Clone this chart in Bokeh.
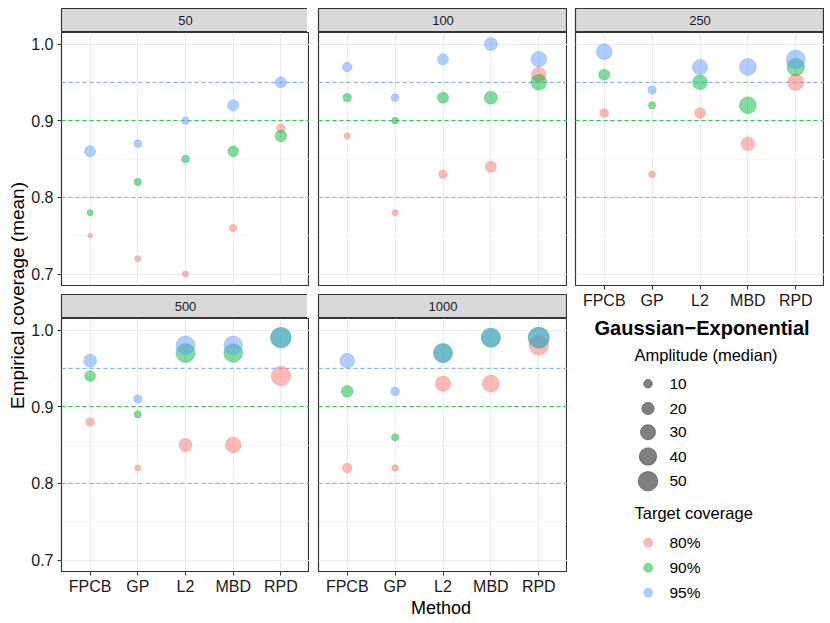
import math
from bokeh.plotting import figure
from bokeh.models import Range1d, FixedTicker, Span, ColumnDataSource, Spacer
from bokeh.layouts import row, column
from bokeh.embed import file_html
from bokeh.resources import INLINE
from bokeh.core.properties import value

# ---------------- data ----------------
methods = ["FPCB", "GP", "L2", "MBD", "RPD"]
sample_sizes = ["50", "100", "250", "500", "1000"]
target_labels = ["80%", "90%", "95%"]
target_levels = [0.80, 0.90, 0.95]
target_colors = ["#F8766D", "#00BA38", "#619CFF"]

# empirical coverage (mean); rows = sample sizes 50..1000, cols = methods
coverage_80 = [
    [0.75, 0.72, 0.70, 0.76, 0.89],
    [0.88, 0.78, 0.83, 0.84, 0.96],
    [0.91, 0.83, 0.91, 0.87, 0.95],
    [0.88, 0.82, 0.85, 0.85, 0.94],
    [0.82, 0.82, 0.93, 0.93, 0.98],
]
coverage_90 = [
    [0.78, 0.82, 0.85, 0.86, 0.88],
    [0.93, 0.90, 0.93, 0.93, 0.95],
    [0.96, 0.92, 0.95, 0.92, 0.97],
    [0.94, 0.89, 0.97, 0.97, 0.99],
    [0.92, 0.86, 0.97, 0.99, 0.99],
]
coverage_95 = [
    [0.86, 0.87, 0.90, 0.92, 0.95],
    [0.97, 0.93, 0.98, 1.00, 0.98],
    [0.99, 0.94, 0.97, 0.97, 0.98],
    [0.96, 0.91, 0.98, 0.98, 0.99],
    [0.96, 0.92, 0.97, 0.99, 0.99],
]
# amplitude (median)
amplitude_80 = [
    [3, 5, 5, 7, 10],
    [5, 5, 9, 16, 27],
    [10, 6, 15, 24, 34],
    [9, 5, 22, 32, 49],
    [12, 6, 30, 37, 49],
]
amplitude_90 = [
    [5, 7, 8, 15, 18],
    [9, 6, 16, 22, 32],
    [16, 7, 28, 37, 40],
    [15, 7, 46, 45, 54],
    [18, 7, 46, 47, 57],
]
amplitude_95 = [
    [16, 8, 7, 16, 16],
    [12, 8, 16, 22, 32],
    [32, 9, 30, 37, 46],
    [22, 9, 46, 45, 54],
    [28, 10, 46, 47, 57],
]
amplitude_breaks = [10, 20, 30, 40, 50]
y_ticks = [0.7, 0.8, 0.9, 1.0]
y_minor = [0.75, 0.85, 0.95]

coverage = [coverage_80, coverage_90, coverage_95]
amplitude = [amplitude_80, amplitude_90, amplitude_95]

FONT = value("Liberation Sans")
x_pos = [i + 1 for i in range(len(methods))]
AXIS_BOTTOM = 26
PAGE_BOTTOM = 621


def amp_to_px(a):
    return 2.8 * math.sqrt(a) - 0.2


def base_fig(**kw):
    args = dict(output_backend="svg", toolbar_location=None,
                min_border_left=0, min_border_right=0,
                min_border_top=0, min_border_bottom=0,
                border_fill_color="white")
    args.update(kw)
    return figure(**args)


def make_strip(label, left, fw):
    p = base_fig(frame_width=fw, frame_height=24, min_border_left=left,
                 x_range=Range1d(0, 1), y_range=Range1d(0, 1),
                 x_axis_location=None, y_axis_location=None,
                 background_fill_color="#D9D9D9",
                 outline_line_color="#333333", outline_line_width=1.2)
    p.grid.visible = False
    p.text(x=[0.5], y=[0.5], text=[label], text_align="center",
           text_baseline="middle", text_font=FONT, text_font_size="13px",
           text_color="#1A1A1A")
    return p


def make_panel(si, left, fw, show_x, show_y, bottom):
    p = base_fig(frame_width=fw, frame_height=253,
                 min_border_left=left, min_border_bottom=bottom,
                 x_range=Range1d(0.4, 5.6), y_range=Range1d(0.685, 1.015),
                 x_axis_location="below" if show_x else None,
                 y_axis_location="left" if show_y else None,
                 background_fill_color="white",
                 outline_line_color="#333333", outline_line_width=1.2)
    p.xgrid.ticker = FixedTicker(ticks=x_pos)
    p.ygrid.ticker = FixedTicker(ticks=y_ticks, minor_ticks=y_minor)
    p.xgrid.grid_line_color = "#EBEBEB"
    p.xgrid.grid_line_width = 1.1
    p.ygrid.grid_line_color = "#EBEBEB"
    p.ygrid.grid_line_width = 1.1
    p.ygrid.minor_grid_line_color = "#EFEFEF"
    p.ygrid.minor_grid_line_width = 0.6
    if show_x:
        ax = p.xaxis[0]
        ax.ticker = FixedTicker(ticks=x_pos)
        ax.major_label_overrides = {x: m for x, m in zip(x_pos, methods)}
    if show_y:
        ay = p.yaxis[0]
        ay.ticker = FixedTicker(ticks=y_ticks)
        ay.major_label_overrides = {t: f"{t:.1f}" for t in y_ticks}
    for ax in list(p.xaxis) + list(p.yaxis):
        ax.axis_line_color = None
        ax.major_tick_in = 0
        ax.major_tick_out = 4
        ax.minor_tick_out = 0
        ax.minor_tick_in = 0
        ax.major_tick_line_color = "#333333"
        ax.major_label_text_font = "Liberation Sans"
        ax.major_label_text_font_size = "16px"
        ax.major_label_text_color = "#1A1A1A"
    for ax in p.xaxis:
        ax.major_label_standoff = 2
    for ay in p.yaxis:
        ay.major_label_standoff = 4
    for lvl, col in zip(target_levels, target_colors):
        p.add_layout(Span(location=lvl, dimension="width", line_color=col,
                          line_dash="4 3", line_width=0.9, level="underlay"))
    for ti, col in enumerate(target_colors):
        src = ColumnDataSource(dict(
            x=x_pos,
            y=coverage[ti][si],
            s=[amp_to_px(a) for a in amplitude[ti][si]],
        ))
        p.scatter("x", "y", size="s", source=src, marker="circle",
                  fill_color=col, fill_alpha=0.5, line_color=col,
                  line_alpha=0.5, line_width=0.7)
    return p


# ---------------- panels ----------------
s50 = make_strip(sample_sizes[0], 31, 248)
p50 = make_panel(0, 31, 248, False, True, 9)
s500 = make_strip(sample_sizes[3], 31, 248)
p500 = make_panel(3, 31, 248, True, True, AXIS_BOTTOM)

s100 = make_strip(sample_sizes[1], 9, 249)
p100 = make_panel(1, 9, 249, False, False, 9)
s1000 = make_strip(sample_sizes[4], 9, 249)
p1000 = make_panel(4, 9, 249, True, False, AXIS_BOTTOM)

s250 = make_strip(sample_sizes[2], 8, 249)
p250 = make_panel(2, 8, 249, True, False, AXIS_BOTTOM)

# ---------------- legend (page coordinates) ----------------
leg_top = 8 + 24 + 253 + AXIS_BOTTOM
leg = base_fig(frame_width=249, frame_height=PAGE_BOTTOM - leg_top,
               min_border_left=8,
               x_range=Range1d(573, 822), y_range=Range1d(PAGE_BOTTOM, leg_top),
               x_axis_location=None, y_axis_location=None,
               outline_line_color=None, background_fill_color="white")
leg.grid.visible = False
leg.text(x=[592], y=[327.5], text=["Gaussian\u2212Exponential"],
         text_align="left", text_baseline="middle", text_font=FONT,
         text_font_size="20px", text_font_style="bold", text_color="black")
leg.text(x=[632], y=[354], text=["Amplitude (median)"], text_align="left",
         text_baseline="middle", text_font=FONT, text_font_size="16.5px",
         text_color="black")
size_y = [383.3, 408, 431.7, 456, 480.7]
leg.scatter(x=[645.5] * len(amplitude_breaks), y=size_y,
            size=[amp_to_px(a) for a in amplitude_breaks], marker="circle",
            fill_color="black", fill_alpha=0.5, line_color="black",
            line_alpha=0.5, line_width=0.7)
leg.text(x=[667] * len(amplitude_breaks), y=size_y,
         text=[str(b) for b in amplitude_breaks], text_align="left",
         text_baseline="middle", text_font=FONT, text_font_size="15.5px",
         text_color="black")
leg.text(x=[632], y=[512.5], text=["Target coverage"], text_align="left",
         text_baseline="middle", text_font=FONT, text_font_size="16.5px",
         text_color="black")
col_y = [542.3, 567.3, 592.3]
leg.scatter(x=[645.7] * 3, y=col_y, size=9, marker="circle",
            fill_color=target_colors, fill_alpha=0.5,
            line_color=target_colors, line_alpha=0.5, line_width=0.7)
leg.text(x=[667] * 3, y=col_y, text=target_labels, text_align="left",
         text_baseline="middle", text_font=FONT, text_font_size="15.5px",
         text_color="black")

# ---------------- axis titles ----------------
ylab = base_fig(frame_width=28, frame_height=PAGE_BOTTOM - 8,
                x_range=Range1d(0, 28), y_range=Range1d(PAGE_BOTTOM, 8),
                x_axis_location=None, y_axis_location=None,
                outline_line_color=None)
ylab.grid.visible = False
ylab.text(x=[16.5], y=[295], text=["Empirical coverage (mean)"],
          angle=math.pi / 2, text_align="center", text_baseline="middle",
          text_font=FONT, text_font_size="19px", text_color="black")

xlab_top = 8 + 24 + 253 + 9 + 24 + 253 + AXIS_BOTTOM
xlab = base_fig(frame_width=537, frame_height=PAGE_BOTTOM - xlab_top,
                x_range=Range1d(28, 565), y_range=Range1d(PAGE_BOTTOM, xlab_top),
                x_axis_location=None, y_axis_location=None,
                outline_line_color=None)
xlab.grid.visible = False
xlab.text(x=[440.5], y=[607.5], text=["Method"], text_align="center",
          text_baseline="middle", text_font=FONT, text_font_size="18px",
          text_color="black")

col1 = column(s50, p50, s500, p500)
col2 = column(s100, p100, s1000, p1000)
col3 = column(s250, p250, leg)
left_block = column(row(col1, col2), xlab)
layout = column(Spacer(width=830 - 8, height=8), row(ylab, left_block, col3))

open("out.html", "w").write(file_html(layout, INLINE))
